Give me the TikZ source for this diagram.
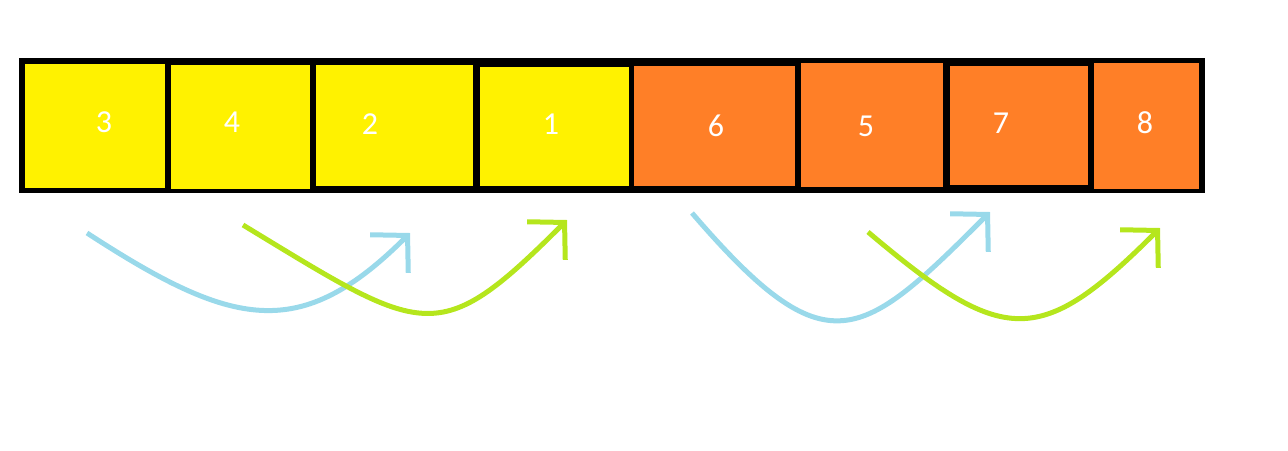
\documentclass[tikz,border=0pt]{standalone}
\usepackage{fontspec}
\setmainfont{Carlito}
\usetikzlibrary{arrows.meta}
\definecolor{cellyellow}{HTML}{FFF200}
\definecolor{cellorange}{HTML}{FF7F27}
\definecolor{arcblue}{HTML}{99D9EA}
\definecolor{arcgreen}{HTML}{B5E61D}

\begin{document}
\begin{tikzpicture}[x=0.5pt,y=-0.5pt,
    num/.style={text=white,font=\fontsize{16}{18}\selectfont,inner sep=0pt},
    arc/.style={line width=2.5pt,-{Straight Barb[length=13pt,width=27pt]}}]
\useasboundingbox (0,0) rectangle (1288,450);
\fill[black] (19,58) rectangle (1205,193);
\foreach \xa/\ya/\xb/\yb/\c in {25/64/165/188/cellyellow,171/65/310/189/cellyellow,
    316/65/473/186/cellyellow,480/67/629/186/cellyellow,634/66/795/186/cellorange,
    801/63/943/187/cellorange,950/66/1088/185/cellorange,1094/63/1199/189/cellorange}{
    \fill[\c] (\xa,\ya) rectangle (\xb,\yb);
}
\foreach \l/\x/\y [count=\i] in {3/104/122,4/232/122,2/370/124,1/551/124,
    6/716/126,5/866/126,7/1001/123,8/1145/123}{
    \node[num] (n\i) at (\x,\y) {\l};
}
\coordinate (b1s) at (87,233);
\coordinate (b1e) at (410,233);
\coordinate (g1s) at (243,225);
\coordinate (g1e) at (567,220);
\coordinate (b2s) at (692,213);
\coordinate (b2e) at (990,212);
\coordinate (g2s) at (868,232);
\coordinate (g2e) at (1160,228);
\draw[arc,arcblue] (b1s) .. controls +(146,95) and +(-110,110) .. (b1e);
\draw[arc,arcgreen] (g1s) .. controls +(183,111) and +(-130,130) .. (g1e);
\draw[arc,arcblue] (b2s) .. controls +(135,157) and +(-130,130) .. (b2e);
\draw[arc,arcgreen] (g2s) .. controls +(136,115) and +(-120,120) .. (g2e);
\end{tikzpicture}
\end{document}
